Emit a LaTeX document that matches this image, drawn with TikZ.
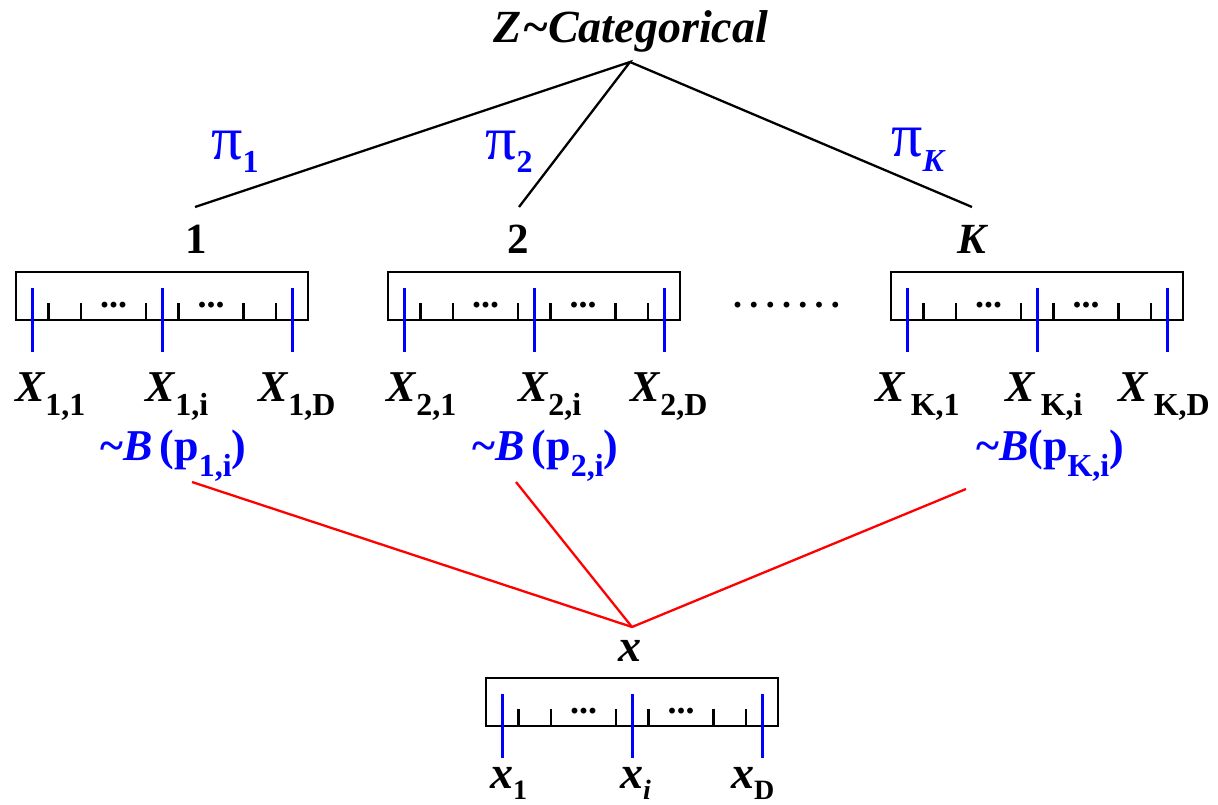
\documentclass[tikz,border=0pt]{standalone}
\usepackage{fontspec}
\setmainfont{Liberation Serif}
\newcommand\fs[1]{\fontsize{#1}{#1}\selectfont}
\newcommand\sublab[2]{\textbf{\textit{#1}}\raisebox{-14pt}{\fs{32}\bfseries #2}}
\newcommand\ruler[2]{%
  \draw[boxline] (#1,#2) rectangle ++(292,48);
  \foreach \k in {1,2,4,5,7,8}{\draw[tickline] ({#1+\k*32.5},{#2+31}) -- ++(0,17);}
  \foreach \k in {0.5,4.5,8.5}{\draw[blueline] ({#1+\k*32.5},{#2+16}) -- ++(0,64);}
  \node[dots] at ({#1+3*32.5},{#2+31}) {...};
  \node[dots] at ({#1+6*32.5},{#2+31}) {...};
}
\begin{document}
\begin{tikzpicture}[x=1pt,y=-1pt,
  boxline/.style={draw=black,line width=2.8pt},
  tickline/.style={draw=black,line width=2.2pt},
  blueline/.style={draw=blue,line width=2.5pt},
  blk/.style={draw=black,line width=2.3pt},
  redline/.style={draw=red,line width=2.3pt},
  dots/.style={font=\fs{36}\bfseries,inner sep=0pt,anchor=base,yshift=-4pt},
  lab/.style={inner sep=0pt,anchor=base west,font=\fs{44}},
  clab/.style={inner sep=0pt,anchor=base,font=\fs{43}\bfseries},
  pil/.style={inner sep=0pt,anchor=base west,text=blue,font=\fs{62}},
  blab/.style={inner sep=0pt,anchor=base west,text=blue,font=\fs{44}\bfseries}]
\useasboundingbox (0,0) rectangle (1218,805);
% top
\node[clab,font=\fs{46}\bfseries\itshape] (z) at (631,43) {Z\textasciitilde Categorical};
\coordinate (zt) at (630,62);
\coordinate (e1) at (195,207);
\coordinate (e2) at (519,207);
\coordinate (eK) at (972,207);
\draw[blk] (e1) -- (zt) -- (e2);
\draw[blk] (zt) -- (eK);
\node[pil] (p1) at (211,160) {π\raisebox{-13pt}{\fs{32}\bfseries 1}};
\node[pil] (p2) at (485,160) {π\raisebox{-13pt}{\fs{32}\bfseries 2}};
\node[pil] (pK) at (891,157) {π\raisebox{-15pt}{\fs{32}\bfseries\itshape K}};
\node[clab] (n1) at (196,253) {1};
\node[clab] (n2) at (518,253) {2};
\node[clab,font=\fs{43}\bfseries\itshape] (nK) at (972,253) {K};
% rulers
\ruler{16}{272}
\ruler{388}{272}
\ruler{891}{272}
\ruler{486}{678}
\node[inner sep=0pt,anchor=base west,font=\fs{36}\bfseries] (mid) at (733,307) {.\hspace{7.3pt}.\hspace{7.3pt}.\hspace{7.3pt}.\hspace{7.3pt}.\hspace{7.3pt}.\hspace{7.3pt}.};
% X labels
\node[lab] (x11) at (15,401) {\sublab{X}{1,1}};
\node[lab] (x1i) at (145,401) {\sublab{X}{1,i}};
\node[lab] (x1D) at (258,401) {\sublab{X}{1,D}};
\node[lab] (x21) at (386,401) {\sublab{X}{2,1}};
\node[lab] (x2i) at (518,401) {\sublab{X}{2,i}};
\node[lab] (x2D) at (630,401) {\sublab{X}{2,D}};
\node[lab] (xK1) at (875,401) {\sublab{X}{\,K,1}};
\node[lab] (xKi) at (1005,401) {\sublab{X}{\,K,i}};
\node[lab] (xKD) at (1118,401) {\sublab{X}{\,K,D}};
% Bernoulli labels
\node[blab] (b1) at (100,460) {\textasciitilde\textit{B}\,(p\raisebox{-16pt}{\fs{32}1,i})};
\node[blab] (b2) at (472,460) {\textasciitilde\textit{B}\,(p\raisebox{-16pt}{\fs{32}2,i})};
\node[blab] (bK) at (976,460) {\textasciitilde\textit{B}(p\raisebox{-16pt}{\fs{32}K,i})};
\coordinate (r1) at (192,482);
\coordinate (r2) at (516,482);
\coordinate (rK) at (966,489);
\coordinate (rx) at (632,627);
\draw[redline] (r1) -- (rx) -- (rK);
\draw[redline] (r2) -- (rx);
% bottom
\node[clab,font=\fs{46}\bfseries\itshape] (xx) at (630,661) {x};
\node[lab,font=\fs{46}] (xb1) at (490,788) {\textbf{\textit{x}}\raisebox{-11pt}{\fs{28}\bfseries 1}};
\node[lab,font=\fs{46}] (xbi) at (620,788) {\textbf{\textit{x}}\raisebox{-11pt}{\fs{28}\bfseries\itshape i}};
\node[lab,font=\fs{46}] (xbD) at (731,788) {\textbf{\textit{x}}\raisebox{-11pt}{\fs{28}\bfseries D}};
\end{tikzpicture}
\end{document}
